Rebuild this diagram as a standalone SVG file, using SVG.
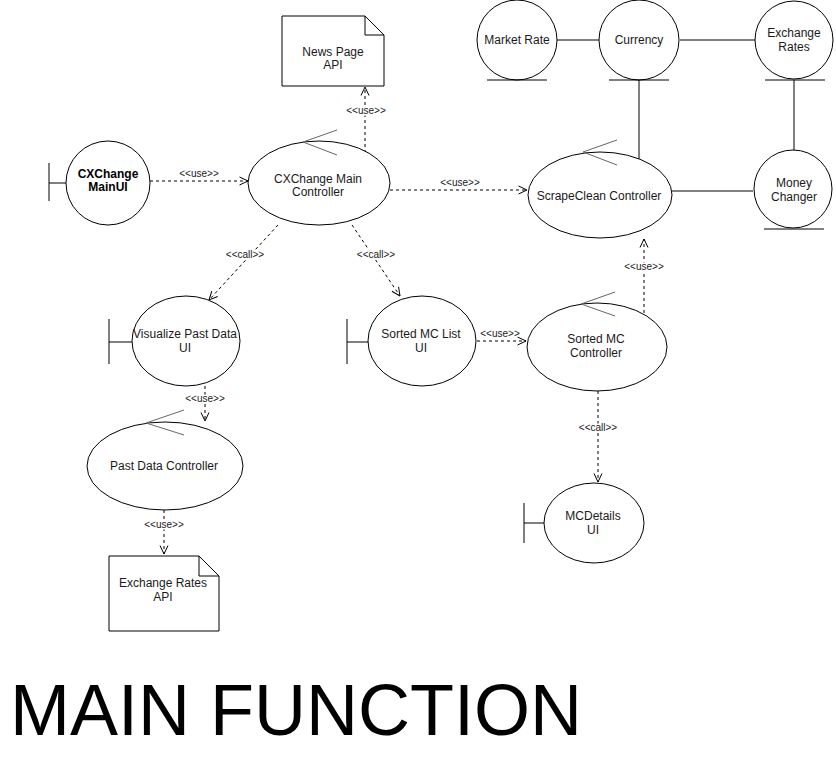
<svg xmlns="http://www.w3.org/2000/svg" width="836" height="765" viewBox="0 0 836 765">
<style>
.s{fill:#fff;stroke:#000;stroke-width:1}
.ln{fill:none;stroke:#000;stroke-width:1}
.ca{fill:none;stroke:#666;stroke-width:1}
.t{font-family:"Liberation Sans",Arial,sans-serif;font-size:12px;fill:#1a1a1a;text-anchor:middle}
.b{font-weight:bold;fill:#000}
.lab{font-family:"Liberation Sans",Arial,sans-serif;font-size:10px;fill:#1a1a1a;text-anchor:middle;paint-order:stroke;stroke:#fff;stroke-width:3px}
.d{fill:none;stroke:#000;stroke-width:1;stroke-dasharray:3 3;marker-end:url(#open)}
</style>
<defs>
<marker id="open" viewBox="0 0 10 10" refX="9.5" refY="5" markerWidth="10" markerHeight="10" orient="auto" markerUnits="userSpaceOnUse">
<path d="M1,1 L9.5,5 L1,9" fill="none" stroke="#000" stroke-width="1"/>
</marker>
</defs>
<rect width="836" height="765" fill="#fff"/>

<g id="connectors">
<path class="d" d="M150,181 L248,181"/>
<path class="d" d="M365,153 L365,87"/>
<path class="d" d="M390,190 L527,190"/>
<path class="d" d="M278,225 L209,300"/>
<path class="d" d="M352,225 L400,296"/>
<path class="d" d="M205,386 L205,421"/>
<path class="d" d="M164,510 L164,554"/>
<path class="d" d="M477,341 L526,341"/>
<path class="d" d="M644,313 L644,239"/>
<path class="d" d="M598,391 L598,482"/>
<path class="ln" d="M557,40 L599,40"/>
<path class="ln" d="M680,40 L755,40"/>
<path class="ln" d="M639,80 L639,159"/>
<path class="ln" d="M794,80 L794,150"/>
<path class="ln" d="M671,191 L753,191"/>
<text class="lab" x="199" y="177">&lt;&lt;use&gt;&gt;</text>
<text class="lab" x="366" y="114">&lt;&lt;use&gt;&gt;</text>
<text class="lab" x="460" y="186">&lt;&lt;use&gt;&gt;</text>
<text class="lab" x="245" y="258">&lt;&lt;call&gt;&gt;</text>
<text class="lab" x="376" y="258">&lt;&lt;call&gt;&gt;</text>
<text class="lab" x="205" y="402">&lt;&lt;use&gt;&gt;</text>
<text class="lab" x="164" y="528">&lt;&lt;use&gt;&gt;</text>
<text class="lab" x="500" y="337">&lt;&lt;use&gt;&gt;</text>
<text class="lab" x="644" y="270">&lt;&lt;use&gt;&gt;</text>
<text class="lab" x="598" y="431">&lt;&lt;call&gt;&gt;</text>
</g>

<g id="cxchange-mainui">
<path class="ln" d="M49,163 L49,201 M49,183 L66,183"/>
<circle class="s" cx="108" cy="183" r="42"/>
<text class="t b" x="108" y="178">CXChange</text>
<text class="t b" x="108" y="191">MainUI</text>
</g>

<g id="cxchange-main-controller">
<ellipse class="s" cx="319" cy="183" rx="71" ry="42"/>
<path class="ca" d="M337,130 L303,142 L337,155"/>
<text class="t" x="318" y="183">CXChange Main</text>
<text class="t" x="318" y="196">Controller</text>
</g>

<g id="news-page-api">
<path class="s" d="M282,16 L365,16 L384,35 L384,86 L282,86 Z"/>
<path class="ln" d="M365,16 L365,35 L384,35"/>
<text class="t" x="333" y="56">News Page</text>
<text class="t" x="333" y="69">API</text>
</g>

<g id="market-rate">
<circle class="s" cx="517" cy="40" r="40"/>
<path class="ln" d="M487,80 L547,80"/>
<text class="t" x="517" y="44">Market Rate</text>
</g>

<g id="currency">
<circle class="s" cx="639" cy="40" r="40"/>
<path class="ln" d="M609,80 L669,80"/>
<text class="t" x="639" y="44">Currency</text>
</g>

<g id="exchange-rates">
<circle class="s" cx="794" cy="40" r="39"/>
<path class="ln" d="M765,80 L825,80"/>
<text class="t" x="794" y="37">Exchange</text>
<text class="t" x="794" y="51">Rates</text>
</g>

<g id="money-changer">
<circle class="s" cx="793" cy="189" r="39"/>
<path class="ln" d="M764,229 L824,229"/>
<text class="t" x="794" y="187">Money</text>
<text class="t" x="794" y="201">Changer</text>
</g>

<g id="scrapeclean-controller">
<ellipse class="s" cx="600" cy="195" rx="72" ry="43"/>
<path class="ca" d="M617,140 L583,152 L617,165"/>
<text class="t" x="599" y="200">ScrapeClean Controller</text>
</g>

<g id="visualize-past-data-ui">
<path class="ln" d="M109,319 L109,364 M109,342 L132,342"/>
<ellipse class="s" cx="186" cy="341" rx="54" ry="45"/>
<text class="t" x="185" y="338">Visualize Past Data</text>
<text class="t" x="185" y="352">UI</text>
</g>

<g id="sorted-mc-list-ui">
<path class="ln" d="M347,319 L347,364 M347,342 L368,342"/>
<ellipse class="s" cx="422" cy="341" rx="54" ry="45"/>
<text class="t" x="421" y="338">Sorted MC List</text>
<text class="t" x="421" y="352">UI</text>
</g>

<g id="sorted-mc-controller">
<ellipse class="s" cx="597" cy="347" rx="70" ry="44"/>
<path class="ca" d="M615,292 L581,304 L615,316"/>
<text class="t" x="596" y="343">Sorted MC</text>
<text class="t" x="596" y="357">Controller</text>
</g>

<g id="past-data-controller">
<ellipse class="s" cx="165" cy="466" rx="78" ry="44"/>
<path class="ca" d="M184,410 L146,423 L184,435"/>
<text class="t" x="164" y="470">Past Data Controller</text>
</g>

<g id="exchange-rates-api">
<path class="s" d="M109,556 L199,556 L219,576 L219,631 L109,631 Z"/>
<path class="ln" d="M199,556 L199,576 L219,576"/>
<text class="t" x="163" y="587">Exchange Rates</text>
<text class="t" x="163" y="601">API</text>
</g>

<g id="mcdetails-ui">
<path class="ln" d="M524,503 L524,543 M524,523 L544,523"/>
<ellipse class="s" cx="594" cy="523" rx="50" ry="40"/>
<text class="t" x="593" y="520">MCDetails</text>
<text class="t" x="593" y="534">UI</text>
</g>

<g id="title">
<text x="10" y="735" font-family="'Liberation Sans',Arial,sans-serif" font-size="72" fill="#000">MAIN FUNCTION</text>
</g>
</svg>
